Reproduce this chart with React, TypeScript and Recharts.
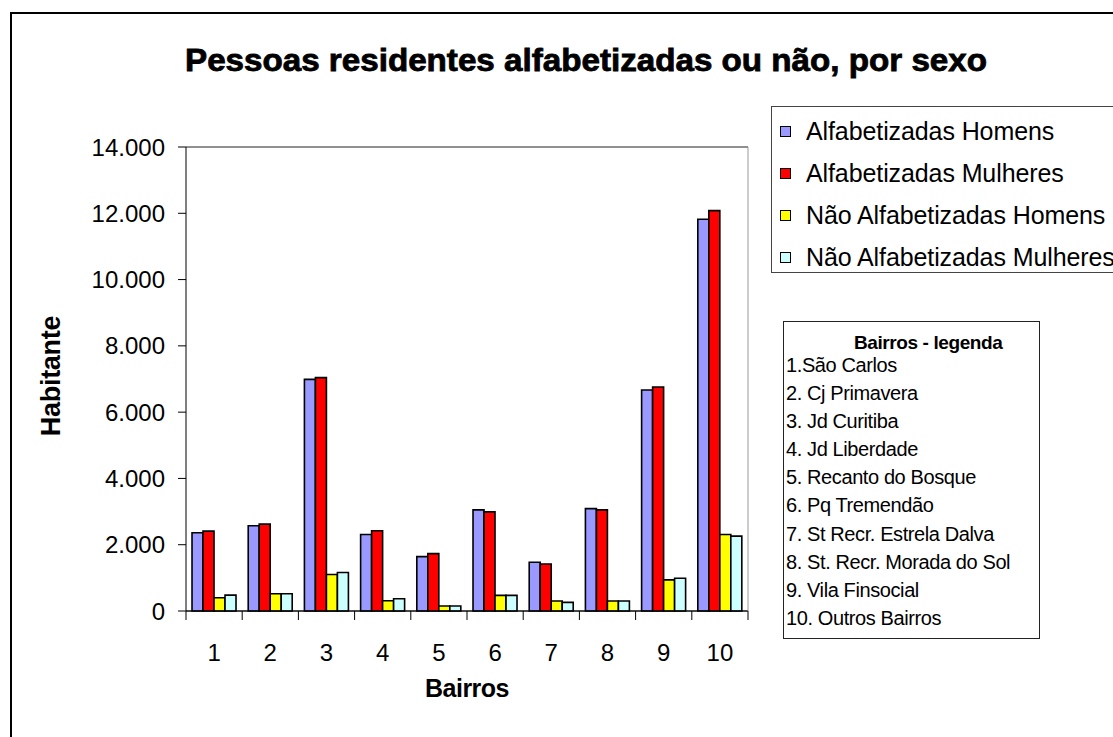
import { BarChart, Bar, XAxis, YAxis, CartesianGrid, Legend } from 'recharts';

const bairros = ['1', '2', '3', '4', '5', '6', '7', '8', '9', '10'];
const alfHomens = [2360, 2570, 6990, 2310, 1640, 3050, 1470, 3090, 6670, 11820];
const alfMulheres = [2410, 2620, 7040, 2420, 1730, 2990, 1420, 3050, 6760, 12080];
const naoAlfHomens = [400, 520, 1100, 310, 150, 470, 300, 300, 940, 2310];
const naoAlfMulheres = [480, 520, 1160, 370, 150, 470, 260, 300, 990, 2260];
const yTicks = [0, 2000, 4000, 6000, 8000, 10000, 12000, 14000];
const bairrosLegenda = [
  '1.São Carlos',
  '2. Cj Primavera',
  '3. Jd Curitiba',
  '4. Jd Liberdade',
  '5. Recanto do Bosque',
  '6. Pq Tremendão',
  '7. St Recr. Estrela Dalva',
  '8. St. Recr. Morada do Sol',
  '9. Vila Finsocial',
  '10. Outros Bairros',
];

const series = [
  { key: 'alfHomens', name: 'Alfabetizadas Homens', color: '#9999FF' },
  { key: 'alfMulheres', name: 'Alfabetizadas Mulheres', color: '#FF0000' },
  { key: 'naoAlfHomens', name: 'Não Alfabetizadas Homens', color: '#FFFF00' },
  { key: 'naoAlfMulheres', name: 'Não Alfabetizadas Mulheres', color: '#CCFFFF' },
];

const data = bairros.map((b, i) => ({
  bairro: b,
  alfHomens: alfHomens[i],
  alfMulheres: alfMulheres[i],
  naoAlfHomens: naoAlfHomens[i],
  naoAlfMulheres: naoAlfMulheres[i],
}));

const FONT = '"Liberation Sans", Arial, sans-serif';
const W = 1113;
const H = 737;
const PLOT_LEFT = 186;
const PLOT_RIGHT = 748;
const PLOT_TOP = 147;
const PLOT_BOTTOM = 611;
const BAND = (PLOT_RIGHT - PLOT_LEFT) / bairros.length;

const fmt = (v: number) => String(v).replace(/\B(?=(\d{3})+(?!\d))/g, '.');

const XTick = (props: any) => {
  const { x, y, payload, index } = props;
  return (
    <g>
      <line x1={x - BAND / 2} x2={x - BAND / 2} y1={y} y2={y + 9} stroke="#000" />
      {index === bairros.length - 1 && (
        <line x1={x + BAND / 2} x2={x + BAND / 2} y1={y} y2={y + 9} stroke="#000" />
      )}
      <text x={x} y={y + 50} textAnchor="middle" fontSize={24} fontFamily={FONT} fill="#000">
        {payload.value}
      </text>
    </g>
  );
};

const SeriesLegend = (props: any) => {
  const items = props.payload && props.payload.length ? props.payload : series.map((s) => ({ value: s.name, color: s.color }));
  return (
    <div
      style={{
        border: '1.5px solid #444',
        background: '#fff',
        width: 380,
        height: 167,
        boxSizing: 'border-box',
        paddingTop: 3,
        fontFamily: FONT,
      }}
    >
      {items.map((it: any) => (
        <div key={it.value} style={{ display: 'flex', alignItems: 'center', height: 42 }}>
          <span
            style={{
              display: 'inline-block',
              width: 9,
              height: 9,
              marginLeft: 8,
              marginRight: 15,
              background: it.color,
              border: '1px solid #000',
            }}
          />
          <span style={{ fontSize: 25, letterSpacing: -0.1, color: '#000' }}>{it.value}</span>
        </div>
      ))}
    </div>
  );
};

export default function App() {
  return (
    <div style={{ position: 'fixed', left: 0, top: 0, width: W, height: H, overflow: 'hidden', background: '#fff' }}>
      <div
        style={{
          position: 'absolute',
          left: 10,
          top: 12,
          width: 1300,
          height: 900,
          border: '2px solid #000',
        }}
      />
      <svg style={{ position: 'absolute', left: 0, top: 0 }} width={W} height={100}>
        <text
          x={586}
          y={71}
          textAnchor="middle"
          fontSize={31}
          fontWeight="bold"
          fontFamily={FONT}
          stroke="#000"
          strokeWidth={0.8}
          textLength={802}
          lengthAdjust="spacingAndGlyphs"
        >
          Pessoas residentes alfabetizadas ou não, por sexo
        </text>
      </svg>
      <div style={{ position: 'absolute', left: 0, top: 0 }}>
        <BarChart
          width={W}
          height={H}
          data={data}
          margin={{ top: PLOT_TOP, right: W - PLOT_RIGHT - 5, left: PLOT_LEFT - 120, bottom: H - PLOT_BOTTOM - 60 }}
          barCategoryGap="10.7%"
          barGap={0}
        >
          <CartesianGrid vertical={false} stroke="#222" />
          <XAxis
            dataKey="bairro"
            axisLine={{ stroke: '#000' }}
            tickLine={false}
            tickSize={0}
            tickMargin={0}
            height={60}
            interval={0}
            tick={<XTick />}
          />
          <YAxis
            yAxisId="left"
            domain={[0, 14000]}
            ticks={yTicks}
            width={120}
            axisLine={{ stroke: '#000' }}
            tickLine={{ stroke: '#000' }}
            tickSize={8}
            tickMargin={13}
            tickFormatter={fmt}
            tick={{ fontSize: 24, fontFamily: FONT, fill: '#000' }}
            interval={0}
          />
          <YAxis
            yAxisId="right"
            orientation="right"
            domain={[0, 14000]}
            width={5}
            tick={false}
            tickLine={false}
            axisLine={{ stroke: '#999' }}
          />
          <Legend
            layout="horizontal"
            verticalAlign="middle"
            align="center"
            wrapperStyle={{ left: 771, top: 106, width: 380, height: 167 }}
            content={<SeriesLegend />}
          />
          {series.map((s) => (
            <Bar
              key={s.key}
              yAxisId="left"
              dataKey={s.key}
              name={s.name}
              fill={s.color}
              stroke="#000"
              strokeWidth={1.6}
              isAnimationActive={false}
              legendType="square"
            />
          ))}
        </BarChart>
      </div>
      <div
        style={{
          position: 'absolute',
          left: 51,
          top: 376,
          transform: 'translate(-50%, -50%) rotate(-90deg)',
          fontFamily: FONT,
          fontWeight: 'bold',
          fontSize: 27,
          letterSpacing: -0.3,
          whiteSpace: 'nowrap',
        }}
      >
        Habitante
      </div>
      <div
        style={{
          position: 'absolute',
          left: 467,
          top: 688,
          transform: 'translate(-50%, -50%)',
          fontFamily: FONT,
          fontWeight: 'bold',
          fontSize: 25,
          letterSpacing: -0.5,
          whiteSpace: 'nowrap',
        }}
      >
        Bairros
      </div>
      <div
        style={{
          position: 'absolute',
          left: 783,
          top: 321,
          width: 257,
          height: 318,
          boxSizing: 'border-box',
          border: '1.5px solid #222',
          background: '#fff',
          fontFamily: FONT,
          fontSize: 20,
          letterSpacing: -0.4,
          color: '#000',
          paddingLeft: 2,
          paddingTop: 13,
        }}
      >
        <div
          style={{
            fontWeight: 'bold',
            fontSize: 19,
            height: 16,
            lineHeight: '16px',
            paddingLeft: 68,
            whiteSpace: 'nowrap',
          }}
        >
          Bairros - legenda
        </div>
        {bairrosLegenda.map((b) => (
          <div key={b} style={{ height: 28.1, lineHeight: '28px', whiteSpace: 'nowrap' }}>
            {b}
          </div>
        ))}
      </div>
    </div>
  );
}
